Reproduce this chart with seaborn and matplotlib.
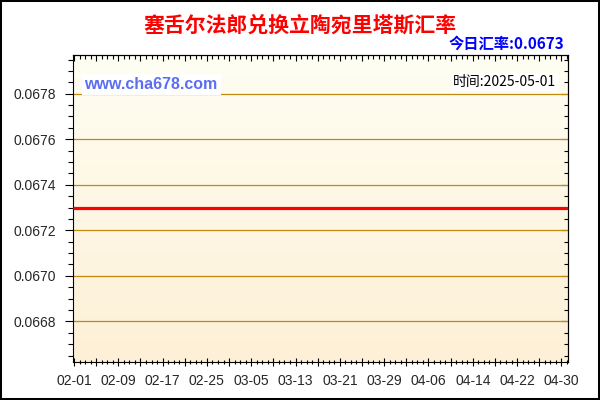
import matplotlib
matplotlib.use("Agg")
import matplotlib.pyplot as plt
import matplotlib.dates as mdates
import matplotlib.ticker as mticker
from matplotlib.patches import Rectangle
import numpy as np
import pandas as pd
import seaborn as sns

# values
dates = ["2025-02-01", "2025-05-01"]
rates = [0.0673, 0.0673]
x_labels = ["02-01", "02-09", "02-17", "02-25", "03-05", "03-13",
            "03-21", "03-29", "04-06", "04-14", "04-22", "04-30"]
y_ticks = [0.0668, 0.0670, 0.0672, 0.0674, 0.0676, 0.0678]
title = "塞舌尔法郎兑换立陶宛里塔斯汇率"
today_rate = "今日汇率:0.0673"
update_time = "时间:2025-05-01"
watermark = "www.cha678.com"

CJK = ["Noto Sans CJK SC", "DejaVu Sans"]
GRID = "#BF8A0F"

sns.set_theme(style="white")
plt.rcParams["font.family"] = ["Liberation Sans", "DejaVu Sans"]

df = pd.DataFrame({"date": pd.to_datetime(dates), "rate": rates})

fig = plt.figure(figsize=(6, 4), dpi=100)
fig.patch.set_facecolor("white")
ax = fig.add_axes([0.121, 0.094, 0.825, 0.7685])

# background gradient inside the plot area
grad = np.linspace(0, 1, 256).reshape(-1, 1)
cmap = matplotlib.colors.LinearSegmentedColormap.from_list("bg", ["#FDF0D6", "#FFFEF3"])
ax.imshow(grad, extent=(0, 1, 0, 1), transform=ax.transAxes, origin="lower",
          aspect="auto", cmap=cmap, zorder=0)

for yv in y_ticks:
    ax.axhline(yv, color=GRID, lw=0.9, zorder=1)

sns.lineplot(data=df, x="date", y="rate", ax=ax, color="#FF0000", lw=2.3, zorder=3)

ax.set_xlim(df["date"].iloc[0] - pd.Timedelta(hours=6), df["date"].iloc[-1] + pd.Timedelta(hours=3))
ax.set_ylim(0.06662, 0.06797)
ax.set_xlabel("")
ax.set_ylabel("")

# x ticks: tall every 4 days, labels every 8 days, small every day
label_dates = pd.to_datetime(["2025-" + s for s in x_labels])
major = pd.date_range(label_dates[0], label_dates[-1], freq="4D")
ax.xaxis.set_major_locator(mticker.FixedLocator(mdates.date2num(major)))
ax.xaxis.set_major_formatter(mticker.FixedFormatter(
    [d.strftime("%m-%d") if d in label_dates else "" for d in major]))
ax.xaxis.set_minor_locator(mdates.DayLocator())
ax.yaxis.set_major_locator(mticker.FixedLocator(y_ticks))
ax.yaxis.set_major_formatter(mticker.FormatStrFormatter("%.4f"))
ax.yaxis.set_minor_locator(mticker.MultipleLocator(0.00005))

ax.tick_params(axis="x", which="major", direction="inout", length=6, width=0.8,
               color="black", labelsize=10, pad=5)
ax.tick_params(axis="x", which="minor", direction="inout", length=3.5, width=0.8, color="black")
ax.tick_params(axis="y", which="major", direction="out", length=6, width=0.8,
               color="black", labelsize=10, pad=6)
ax.tick_params(axis="y", which="minor", direction="out", length=3.5, width=0.8, color="black")
ax.tick_params(bottom=True, left=True, which="both")

top = ax.secondary_xaxis("top")
top.xaxis.set_major_locator(mticker.FixedLocator(mdates.date2num(major)))
top.xaxis.set_minor_locator(mdates.DayLocator())
top.tick_params(which="major", direction="in", length=4, width=0.8, color="black", labeltop=False)
top.tick_params(which="minor", direction="in", length=3, width=0.8, color="black")
right = ax.secondary_yaxis("right")
right.yaxis.set_major_locator(mticker.FixedLocator(y_ticks))
right.yaxis.set_minor_locator(mticker.MultipleLocator(0.00005))
right.tick_params(which="major", direction="in", length=5, width=0.8, color="black", labelright=False)
right.tick_params(which="minor", direction="in", length=3, width=0.8, color="black")

for sp in list(ax.spines.values()) + [top.spines["top"], right.spines["right"]]:
    sp.set_color("black")
    sp.set_linewidth(0.8)

# texts
fig.text(0.5, 0.937, title, ha="center", va="center", color="#FF0000",
         fontsize=15, fontweight="bold", family=CJK)
fig.text(0.94, 0.89, today_rate, ha="right", va="center", color="#0000FF",
         fontsize=11, fontweight="bold", family=CJK)
# white box behind the watermark hides part of the top grid line
ax.add_patch(Rectangle((0.019, 0.871), 0.281, 0.066, transform=ax.transAxes,
                       facecolor="white", edgecolor="none", zorder=2))
ax.text(0.024, 0.905, watermark, transform=ax.transAxes, ha="left", va="center",
        color="#5A6EF2", fontsize=11.5, fontweight="bold", zorder=4,
        family=["Liberation Sans", "DejaVu Sans"])
ax.text(0.977, 0.913, update_time, transform=ax.transAxes, ha="right", va="center",
        color="black", fontsize=10, zorder=4, family=CJK,
        bbox=dict(facecolor="white", edgecolor="none", pad=1.5))

# black frame around the whole image
fig.patches.append(Rectangle((0, 0), 1, 1, transform=fig.transFigure, fill=False,
                             edgecolor="black", lw=2.9, zorder=10))

fig.savefig("out.png", dpi=100)
